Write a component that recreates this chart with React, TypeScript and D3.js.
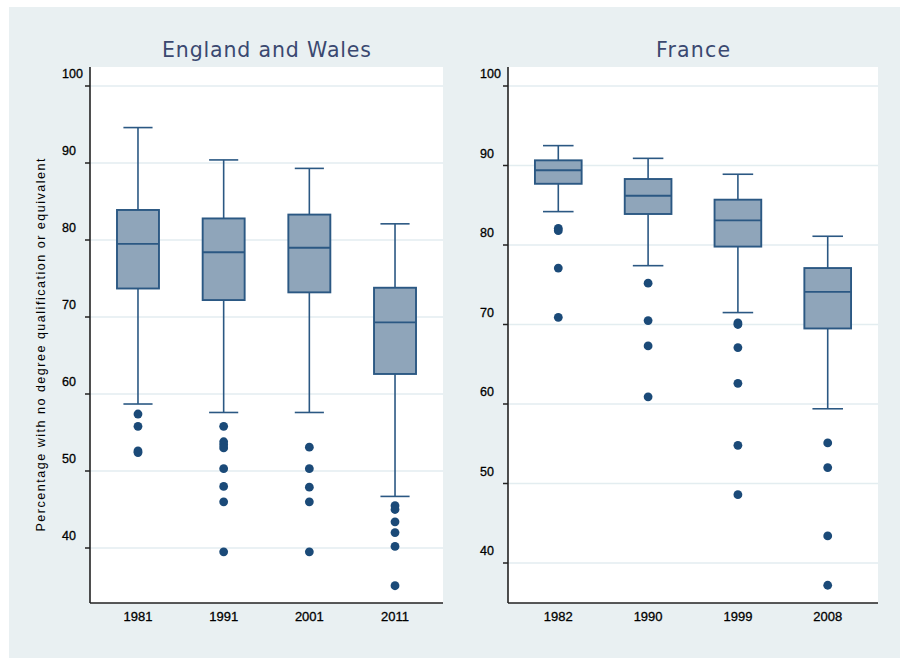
import React from 'react';
import * as d3 from 'd3';

// England and Wales
const ewYears = ['1981', '1991', '2001', '2011'];
const ewLow = [58.7, 57.6, 57.6, 46.7];
const ewQ1 = [73.7, 72.2, 73.2, 62.6];
const ewMedian = [79.5, 78.4, 79.0, 69.3];
const ewQ3 = [83.9, 82.8, 83.3, 73.8];
const ewHigh = [94.6, 90.4, 89.3, 82.1];
const ewOutliers = [
  [57.4, 55.8, 52.6, 52.4],
  [55.8, 53.8, 53.4, 53.0, 50.3, 48.0, 46.0, 39.5],
  [53.1, 50.3, 47.9, 46.0, 39.5],
  [45.5, 45.0, 43.4, 42.0, 40.2, 35.1],
];

// France
const frYears = ['1982', '1990', '1999', '2008'];
const frLow = [84.2, 77.4, 71.5, 59.4];
const frQ1 = [87.7, 83.9, 79.8, 69.5];
const frMedian = [89.4, 86.2, 83.1, 74.1];
const frQ3 = [90.65, 88.3, 85.7, 77.1];
const frHigh = [92.5, 90.9, 88.9, 81.1];
const frOutliers = [
  [82.1, 81.8, 77.1, 70.9],
  [75.2, 70.5, 67.3, 60.9],
  [70.2, 70.0, 67.1, 62.6, 54.8, 48.6],
  [55.1, 52.0, 43.4, 37.2],
];

const yTicks = [40, 50, 60, 70, 80, 90, 100];

const BG = '#e9f0f2';
const GRID = '#e3edf0';
const BOX_FILL = '#8fa5ba';
const BOX_STROKE = '#2b5883';
const DOT = '#1b4a78';
const TITLE = '#3a4870';

interface PanelProps {
  title: string;
  titleWidth: number;
  years: string[];
  low: number[];
  q1: number[];
  median: number[];
  q3: number[];
  high: number[];
  outliers: number[][];
  left: number;
  right: number;
  y40: number;
  y100: number;
  boxFrac: number;
  capFrac: number;
}

const TOP = 67;
const BOTTOM = 603;

const Panel: React.FC<PanelProps> = (p) => {
  const x = d3.scalePoint<string>().domain(p.years).range([p.left, p.right]).padding(0.56);
  const y = d3.scaleLinear().domain([40, 100]).range([p.y40, p.y100]);
  const step = x.step();
  const bw = step * p.boxFrac;
  const cw = step * p.capFrac;
  const cx = (p.left + p.right) / 2;

  return (
    <g>
      <rect x={p.left} y={TOP} width={p.right - p.left} height={BOTTOM - TOP} fill="#fff" />
      {yTicks.map((t) => (
        <line key={'g' + t} x1={p.left} x2={p.right} y1={y(t)} y2={y(t)} stroke={GRID} strokeWidth={1.5} />
      ))}
      <text x={cx} y={57} textAnchor="middle" fontFamily="'DejaVu Sans', sans-serif" fontSize={20.5}
        fill={TITLE} textLength={p.titleWidth} lengthAdjust="spacing">{p.title}</text>

      {p.years.map((yr, i) => {
        const c = x(yr)!;
        return (
          <g key={yr}>
            <line x1={c} x2={c} y1={y(p.q3[i])} y2={y(p.high[i])} stroke={BOX_STROKE} strokeWidth={1.6} />
            <line x1={c} x2={c} y1={y(p.q1[i])} y2={y(p.low[i])} stroke={BOX_STROKE} strokeWidth={1.6} />
            <line x1={c - cw / 2} x2={c + cw / 2} y1={y(p.high[i])} y2={y(p.high[i])} stroke={BOX_STROKE} strokeWidth={1.6} />
            <line x1={c - cw / 2} x2={c + cw / 2} y1={y(p.low[i])} y2={y(p.low[i])} stroke={BOX_STROKE} strokeWidth={1.6} />
            <rect x={c - bw / 2} y={y(p.q3[i])} width={bw} height={y(p.q1[i]) - y(p.q3[i])}
              fill={BOX_FILL} stroke={BOX_STROKE} strokeWidth={1.9} />
            <line x1={c - bw / 2} x2={c + bw / 2} y1={y(p.median[i])} y2={y(p.median[i])} stroke={BOX_STROKE} strokeWidth={1.9} />
            {p.outliers[i].map((v, j) => (
              <circle key={j} cx={c} cy={y(v)} r={4.4} fill={DOT} />
            ))}
            <text x={c} y={621} textAnchor="middle" fontFamily="'Liberation Sans', Arial, sans-serif"
              fontSize={13} fill="#000" stroke="#000" strokeWidth={0.3}>{yr}</text>
          </g>
        );
      })}

      {/* axes */}
      <line x1={p.left} x2={p.left} y1={TOP} y2={BOTTOM} stroke="#222" strokeWidth={1.6} />
      <line x1={p.left} x2={p.right} y1={BOTTOM} y2={BOTTOM} stroke="#222" strokeWidth={1.6} />
      {yTicks.map((t) => (
        <g key={'t' + t}>
          <line x1={p.left - 5} x2={p.left} y1={y(t)} y2={y(t)} stroke="#222" strokeWidth={1.5} />
          <text x={p.left - 28} y={y(t) - 8} fontFamily="'Liberation Sans', Arial, sans-serif"
            fontSize={12.5} fill="#000" stroke="#000" strokeWidth={0.3}>{t}</text>
        </g>
      ))}
    </g>
  );
};

export default function App() {
  return (
    <svg width={900} height={659} style={{ position: 'absolute', left: 0, top: 0 }}>
      <rect x={0} y={0} width={900} height={659} fill="#fff" />
      <rect x={9} y={7} width={891} height={651} fill={BG} />
      <Panel title="England and Wales" titleWidth={209} years={ewYears} low={ewLow} q1={ewQ1}
        median={ewMedian} q3={ewQ3} high={ewHigh} outliers={ewOutliers}
        left={90} right={443} y40={548} y100={86} boxFrac={0.49} capFrac={0.34} />
      <Panel title="France" titleWidth={74} years={frYears} low={frLow} q1={frQ1}
        median={frMedian} q3={frQ3} high={frHigh} outliers={frOutliers}
        left={508} right={878} y40={563} y100={86} boxFrac={0.52} capFrac={0.34} />
      <text transform="translate(45,345) rotate(-90)" textAnchor="middle"
        fontFamily="'Liberation Sans', Arial, sans-serif" fontSize={12.5} fill="#000"
        textLength={373} lengthAdjust="spacing">
        Percentage with no degree qualification or equivalent
      </text>
    </svg>
  );
}
